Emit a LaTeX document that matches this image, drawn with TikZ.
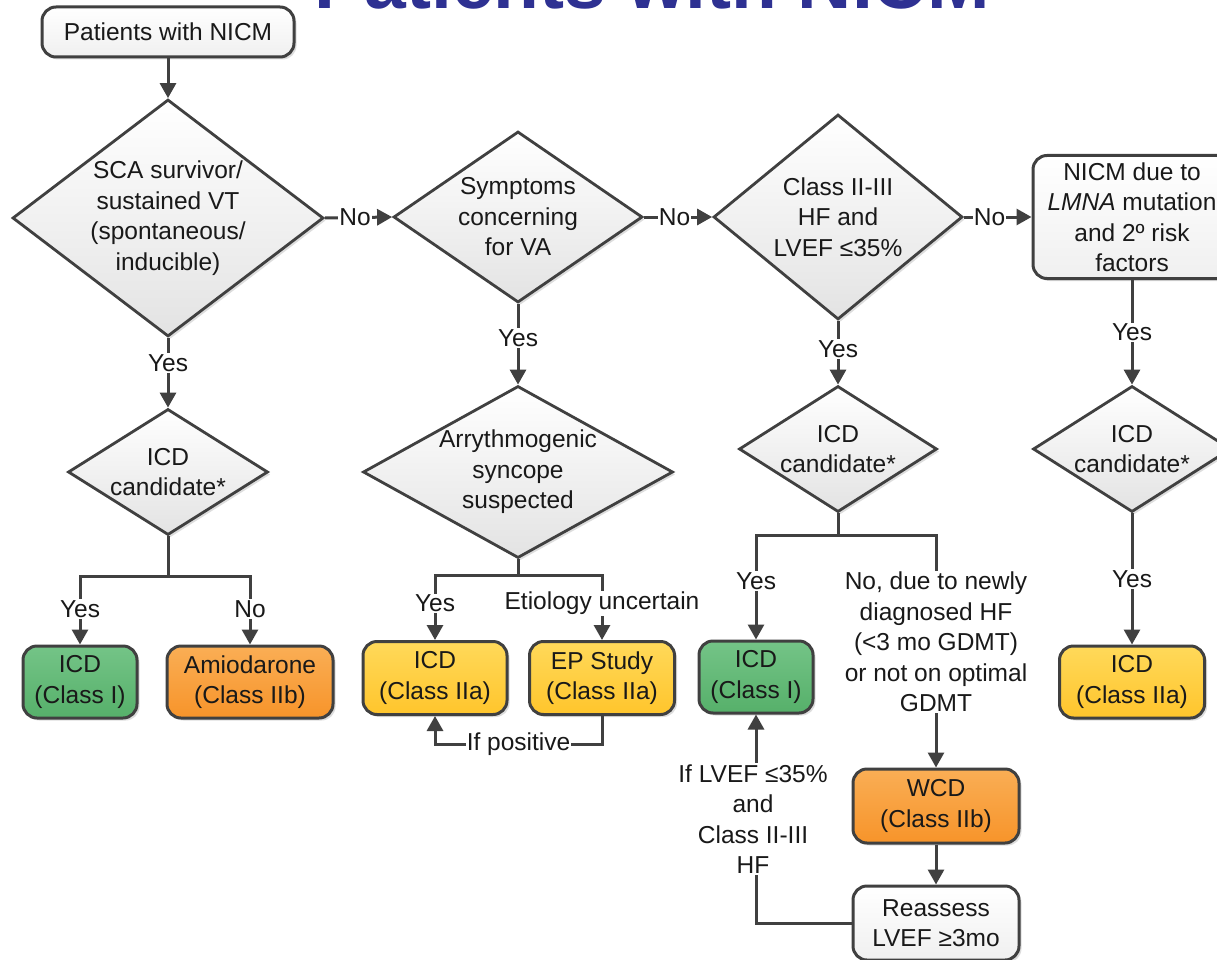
\documentclass[tikz,border=0pt]{standalone}
\usepackage{fontspec}
\setmainfont{Liberation Sans}
\usetikzlibrary{shapes.geometric,arrows.meta,shadows}
\definecolor{linec}{HTML}{404040}
\definecolor{titleblue}{HTML}{2E3192}
\definecolor{grnT}{HTML}{74C487}
\definecolor{grnB}{HTML}{56B06A}
\definecolor{orgT}{HTML}{FAAE55}
\definecolor{orgB}{HTML}{F7942A}
\definecolor{ylwT}{HTML}{FFD95A}
\definecolor{ylwB}{HTML}{FFC52C}
\newcommand{\fs}{\fontsize{24.5}{30.5}\selectfont}
\begin{document}
\begin{tikzpicture}[x=1pt,y=-1pt,
  sh/.style={drop shadow={shadow xshift=2.5pt,shadow yshift=-2.5pt,opacity=0.22,fill=black!60}},
  dia/.style={diamond,draw=linec,line width=2.8pt,top color=white,bottom color=gray!22,inner sep=0pt,sh},
  txt/.style={font=\fs,align=center,text=black!90,inner sep=1pt},
  box/.style={rounded corners=14pt,draw=linec,line width=3pt,align=center,font=\fs,text=black!90,inner sep=1pt,sh},
  whitebox/.style={box,top color=white,bottom color=gray!12},
  greenbox/.style={box,top color=grnT,bottom color=grnB},
  orangebox/.style={box,top color=orgT,bottom color=orgB},
  yellowbox/.style={box,top color=ylwT,bottom color=ylwB},
  conn/.style={draw=linec,line width=3pt,-{Triangle[length=15pt,width=16pt]}},
  plain/.style={draw=linec,line width=3pt},
  lab/.style={fill=white,inner sep=1.2pt,font=\fs,text=black!90}]
\useasboundingbox (0,0) rectangle (1217,960);
\clip (0,0) rectangle (1217,960);
\fill[white] (0,0) rectangle (1217,960);

% title (cropped at top, as in the reference)
\node[anchor=base,text=titleblue,inner sep=0pt,font=\fontsize{75}{80}\selectfont\bfseries] (title) at (652,9) {Patients with NICM};

% start
\node[whitebox,minimum width=252,minimum height=50] (start) at (168,32) {Patients with NICM};

% main decision row
\node[dia,minimum width=311,minimum height=237] (d1) at (168,218) {};
\node[txt] at (d1) {SCA survivor/\\sustained VT\\(spontaneous/\\inducible)};
\node[dia,minimum width=249,minimum height=171] (d2) at (518,217) {};
\node[txt] at (d2) {Symptoms\\concerning\\for VA};
\node[dia,minimum width=249,minimum height=205] (d3) at (838,217) {};
\node[txt] at (d3) {Class II-III\\HF and\\LVEF ≤35\%};
\node[whitebox,minimum width=198,minimum height=123] (lm) at (1132,217) {NICM due to\\\textit{LMNA} mutation\\and 2º risk\\factors};

% second row decisions
\node[dia,minimum width=200,minimum height=126] (c1) at (168,472) {};
\node[txt] at (c1) {ICD\\candidate*};
\node[dia,minimum width=310,minimum height=172] (c2) at (518,472) {};
\node[txt] at (c2) {Arrythmogenic\\syncope\\suspected};
\node[dia,minimum width=198,minimum height=126] (c3) at (838,449) {};
\node[txt] at (c3) {ICD\\candidate*};
\node[dia,minimum width=198,minimum height=126] (c4) at (1132,449) {};
\node[txt] at (c4) {ICD\\candidate*};

% outcome boxes
\node[greenbox,minimum width=114,minimum height=72] (b1) at (80,682) {ICD\\(Class I)};
\node[orangebox,minimum width=166,minimum height=72] (b2) at (250,682) {Amiodarone\\(Class IIb)};
\node[yellowbox,minimum width=144,minimum height=73] (b3) at (435,678) {ICD\\(Class IIa)};
\node[yellowbox,minimum width=145,minimum height=73] (b4) at (602,678) {EP Study\\(Class IIa)};
\node[greenbox,minimum width=114,minimum height=72] (b5) at (756,677) {ICD\\(Class I)};
\node[orangebox,minimum width=166,minimum height=74] (b6) at (936,806) {WCD\\(Class IIb)};
\node[whitebox,minimum width=166,minimum height=74] (b7) at (936,923) {Reassess\\LVEF ≥3mo};
\node[yellowbox,minimum width=145,minimum height=72] (b8) at (1132,682) {ICD\\(Class IIa)};

% junctions
\coordinate (j1) at (168,576);
\coordinate (j2) at (518,575);
\coordinate (j3) at (838,535);

% connectors
\draw[conn] (start.south) -- (d1.north);
\draw[conn] (d1.east) -- node[lab,pos=0.45]{No} (d2.west);
\draw[conn] (d2.east) -- node[lab,pos=0.45]{No} (d3.west);
\draw[conn] (d3.east) -- node[lab,pos=0.38]{No} (lm.west);

\draw[conn] (d1.south) -- node[lab,pos=0.36]{Yes} (c1.north);
\draw[conn] (d2.south) -- node[lab,pos=0.42]{Yes} (c2.north);
\draw[conn] (d3.south) -- node[lab,pos=0.44]{Yes} (c3.north);
\draw[conn] (lm.south) -- node[lab,pos=0.5]{Yes} (c4.north);

\draw[plain] (c1.south) -- (j1);
\draw[conn] (j1) -| node[lab,pos=0.74]{Yes} (b1.north);
\draw[conn] (j1) -| node[lab,pos=0.74]{No} (b2.north);

\draw[plain] (c2.south) -- (j2);
\draw[conn] (j2) -| node[lab,pos=0.72]{Yes} (b3.north);
\draw[conn] (j2) -| node[lab,pos=0.72]{Etiology uncertain} (b4.north);
\draw[conn] (b4.south) -- ++(0,28) -| node[lab,pos=0.25]{If positive} (b3.south);

\draw[plain] (c3.south) -- (j3);
\draw[conn] (j3) -| node[lab,pos=0.72]{Yes} (b5.north);
\draw[conn] (j3) -| (b6.north);
\node[lab,align=center] (nolab) at (936,642) {No, due to newly\\diagnosed HF\\ (<3 mo GDMT)\\or not on optimal\\GDMT};
\draw[conn] (b6.south) -- (b7.north);
\draw[conn] (b7.west) -| (b5.south);
\node[lab,align=center] (iflab) at (753,819) {If LVEF ≤35\%\\and\\Class II-III\\HF};

\draw[conn] (c4.south) -- node[lab,pos=0.5]{Yes} (b8.north);
\end{tikzpicture}
\end{document}
